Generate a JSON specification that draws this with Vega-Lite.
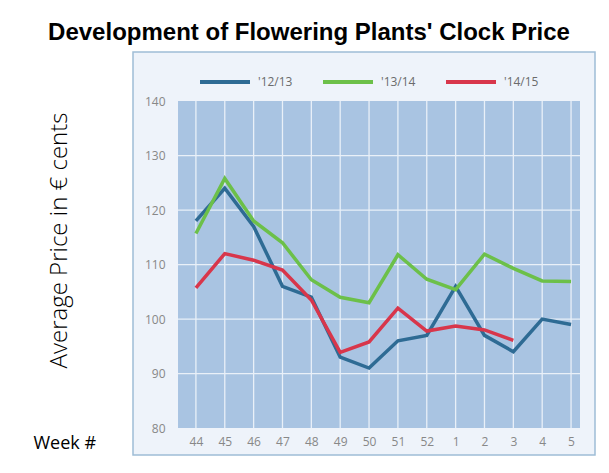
{
  "$schema": "https://vega.github.io/schema/vega-lite/v6.json",
  "autosize": {"type": "none"},
  "width": 462,
  "height": 403,
  "padding": {"left": 133, "top": 52, "right": 14, "bottom": 18},
  "background": "white",
  "title": {
    "text": "Development of Flowering Plants' Clock Price",
    "font": "Liberation Sans",
    "fontWeight": "bold",
    "fontSize": 24,
    "color": "black",
    "anchor": "middle",
    "dx": -55,
    "offset": 7
  },
  "config": {
    "view": {"fill": "#eef3fa", "stroke": "#9fbdd6", "strokeWidth": 1.5},
    "axis": {"labelOverlap": false, "labelBound": false, "labelFlush": false}
  },
  "datasets": {
    "prices": [
      {"series": "'12/13", "week": 44, "seq": 44, "price": 118},
      {"series": "'12/13", "week": 45, "seq": 45, "price": 124},
      {"series": "'12/13", "week": 46, "seq": 46, "price": 117},
      {"series": "'12/13", "week": 47, "seq": 47, "price": 106},
      {"series": "'12/13", "week": 48, "seq": 48, "price": 104},
      {"series": "'12/13", "week": 49, "seq": 49, "price": 93},
      {"series": "'12/13", "week": 50, "seq": 50, "price": 91},
      {"series": "'12/13", "week": 51, "seq": 51, "price": 96},
      {"series": "'12/13", "week": 52, "seq": 52, "price": 97},
      {"series": "'12/13", "week": 1, "seq": 53, "price": 106},
      {"series": "'12/13", "week": 2, "seq": 54, "price": 97},
      {"series": "'12/13", "week": 3, "seq": 55, "price": 94},
      {"series": "'12/13", "week": 4, "seq": 56, "price": 100},
      {"series": "'12/13", "week": 5, "seq": 57, "price": 99},
      {"series": "'13/14", "week": 44, "seq": 44, "price": 115.7},
      {"series": "'13/14", "week": 45, "seq": 45, "price": 125.8},
      {"series": "'13/14", "week": 46, "seq": 46, "price": 118},
      {"series": "'13/14", "week": 47, "seq": 47, "price": 114},
      {"series": "'13/14", "week": 48, "seq": 48, "price": 107.2},
      {"series": "'13/14", "week": 49, "seq": 49, "price": 104},
      {"series": "'13/14", "week": 50, "seq": 50, "price": 103},
      {"series": "'13/14", "week": 51, "seq": 51, "price": 111.8},
      {"series": "'13/14", "week": 52, "seq": 52, "price": 107.3},
      {"series": "'13/14", "week": 1, "seq": 53, "price": 105.4},
      {"series": "'13/14", "week": 2, "seq": 54, "price": 111.9},
      {"series": "'13/14", "week": 3, "seq": 55, "price": 109.3},
      {"series": "'13/14", "week": 4, "seq": 56, "price": 107},
      {"series": "'13/14", "week": 5, "seq": 57, "price": 106.9},
      {"series": "'14/15", "week": 44, "seq": 44, "price": 105.7},
      {"series": "'14/15", "week": 45, "seq": 45, "price": 112},
      {"series": "'14/15", "week": 46, "seq": 46, "price": 110.8},
      {"series": "'14/15", "week": 47, "seq": 47, "price": 109},
      {"series": "'14/15", "week": 48, "seq": 48, "price": 103.5},
      {"series": "'14/15", "week": 49, "seq": 49, "price": 93.9},
      {"series": "'14/15", "week": 50, "seq": 50, "price": 95.8},
      {"series": "'14/15", "week": 51, "seq": 51, "price": 102},
      {"series": "'14/15", "week": 52, "seq": 52, "price": 97.8},
      {"series": "'14/15", "week": 1, "seq": 53, "price": 98.7},
      {"series": "'14/15", "week": 2, "seq": 54, "price": 98},
      {"series": "'14/15", "week": 3, "seq": 55, "price": 96.1}
    ],
    "levels": [
      {"level": 90}, {"level": 100}, {"level": 110}, {"level": 120}, {"level": 130}
    ]
  },
  "layer": [
    {
      "data": {"values": [{}]},
      "mark": {"type": "rect", "color": "#a9c4e2"},
      "encoding": {
        "x": {"datum": 43.38, "type": "quantitative",
          "scale": {"domain": [41.82, 57.83], "nice": false, "zero": false},
          "axis": {
            "values": [44, 45, 46, 47, 48, 49, 50, 51, 52, 53, 54, 55, 56, 57],
            "tickCount": 30,
            "labelExpr": "datum.value > 52 ? datum.value - 52 : datum.value",
            "labelOverlap": false,
            "offset": -27,
            "grid": false, "domain": false, "ticks": false,
            "labelFont": "Open Sans", "labelFontSize": 12, "labelColor": "#888888", "labelPadding": 8,
            "title": "Week #",
            "titleFont": "Open Sans", "titleFontSize": 18, "titleFontWeight": "normal", "titleColor": "black",
            "titleAlign": "left", "titleAnchor": null, "titleX": -100, "titleY": 20, "titleBaseline": "alphabetic"
          }
        },
        "x2": {"datum": 57.31},
        "y": {"datum": 80, "type": "quantitative",
          "scale": {"domain": [75.05, 149], "nice": false, "zero": false},
          "axis": {
            "values": [80, 90, 100, 110, 120, 130, 140],
            "tickCount": 20,
            "labelOverlap": false,
            "offset": -45,
            "grid": false, "domain": false, "ticks": false,
            "labelFont": "Open Sans", "labelFontSize": 12, "labelColor": "#888888", "labelPadding": 13,
            "title": "Average Price in € cents",
            "titleFont": "Open Sans", "titleFontSize": 24, "titleFontWeight": 300, "titleColor": "black",
            "titleAngle": -90, "titleAlign": "center", "titleBaseline": "middle",
            "titleX": -119, "titleY": 188
          }
        },
        "y2": {"datum": 140}
      }
    },
    {
      "data": {"name": "prices"},
      "transform": [{"filter": "datum.series === \"'12/13\""}],
      "mark": {"type": "rule", "color": "#e9f0f8", "strokeWidth": 1.3},
      "encoding": {
        "x": {"field": "seq", "type": "quantitative", "title": "Week #", "scale": {"domain": [41.82, 57.83], "nice": false, "zero": false}},
        "y": {"datum": 80, "type": "quantitative", "title": "Average Price in € cents", "scale": {"domain": [75.05, 149], "nice": false, "zero": false}},
        "y2": {"datum": 140}
      }
    },
    {
      "data": {"name": "levels"},
      "mark": {"type": "rule", "color": "#e9f0f8", "strokeWidth": 1.3},
      "encoding": {
        "y": {"field": "level", "type": "quantitative", "title": "Average Price in € cents", "scale": {"domain": [75.05, 149], "nice": false, "zero": false}},
        "x": {"datum": 43.38, "type": "quantitative", "title": "Week #", "scale": {"domain": [41.82, 57.83], "nice": false, "zero": false}},
        "x2": {"datum": 57.31}
      }
    },
    {
      "data": {"name": "prices"},
      "mark": {"type": "line", "strokeWidth": 3.5, "strokeJoin": "miter"},
      "encoding": {
        "x": {"field": "seq", "type": "quantitative", "title": "Week #", "scale": {"domain": [41.82, 57.83], "nice": false, "zero": false}},
        "y": {"field": "price", "type": "quantitative", "title": "Average Price in € cents", "scale": {"domain": [75.05, 149], "nice": false, "zero": false}},
        "color": {
          "field": "series", "type": "nominal",
          "scale": {"domain": ["'12/13", "'13/14", "'14/15"], "range": ["#2e6b94", "#6cc049", "#d8364b"]},
          "legend": {
            "title": null, "orient": "none", "direction": "horizontal",
            "legendX": 65, "legendY": 3,
            "symbolType": "stroke", "symbolSize": 2500, "symbolStrokeWidth": 4,
            "labelFont": "Open Sans", "labelFontSize": 12, "labelColor": "#6b6b6b",
            "labelOffset": 6, "columnPadding": 22
          }
        }
      }
    }
  ]
}
